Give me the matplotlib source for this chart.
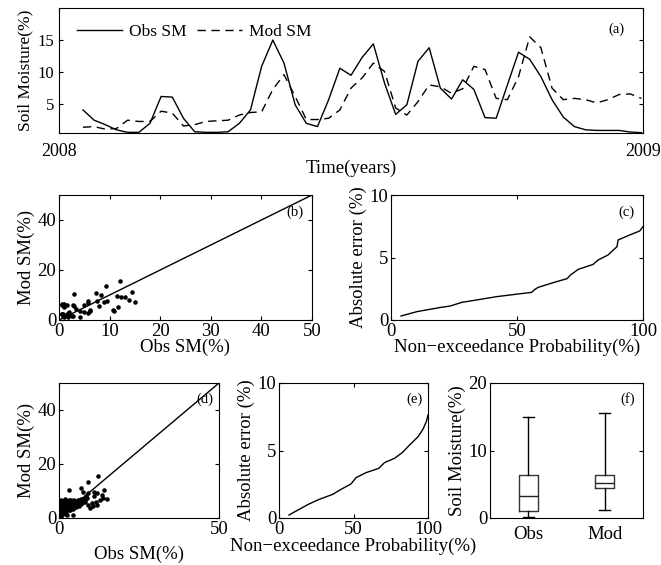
import numpy as np
import pandas as pd
import matplotlib
matplotlib.use('Agg')
import matplotlib.pyplot as plt

plt.rcParams['font.family'] = ['Liberation Serif', 'DejaVu Serif']
plt.rcParams['mathtext.fontset'] = 'stix'
plt.rcParams['axes.linewidth'] = 0.8
plt.rcParams['xtick.direction'] = 'in'
plt.rcParams['ytick.direction'] = 'in'
plt.rcParams['xtick.top'] = True
plt.rcParams['ytick.right'] = True
plt.rcParams['xtick.major.size'] = 3
plt.rcParams['ytick.major.size'] = 3

# (a) weekly time series 2008
dates = pd.date_range('2008-01-16', periods=51, freq='7D')
obs_sm = [4.1, 2.5, 1.8, 1.0, 0.6, 0.6, 2.0, 6.2, 6.1, 2.8,
          0.7, 0.6, 0.6, 0.7, 2.0, 4.1, 10.9, 15.0, 11.4, 4.9,
          2.0, 1.5, 5.7, 10.6, 9.5, 12.3, 14.4, 8.3, 3.4, 4.9,
          11.7, 13.8, 7.5, 5.8, 8.8, 7.3, 2.9, 2.8, 8.0, 13.1,
          12.0, 9.3, 5.7, 3.0, 1.5, 1.0, 0.9, 0.9, 0.9, 0.65, 0.55]
mod_sm = [1.4, 1.5, 1.1, 1.2, 2.5, 2.3, 2.3, 3.9, 3.6, 1.6,
          1.8, 2.3, 2.4, 2.5, 3.3, 3.7, 3.8, 7.3, 9.6, 6.2,
          2.6, 2.6, 2.8, 4.1, 7.5, 9.1, 11.4, 10.1, 4.4, 3.3,
          5.4, 8.0, 7.7, 6.7, 7.4, 10.9, 10.4, 5.9, 5.7, 9.3,
          15.5, 13.8, 7.5, 5.7, 5.9, 5.7, 5.2, 5.7, 6.5, 6.6, 5.9]

# (c) absolute error vs non-exceedance probability
prob_c = [4.0, 10.3, 19.5, 23.5, 28.1, 35.4, 42.0, 49.2, 55.8, 57.1, 58.4,
          64.4, 69.9, 71.2, 74.3, 80.2, 82.2, 86.1, 89.7, 90.1, 94.7, 98.7, 100]
err_c = [0.32, 0.67, 1.0, 1.12, 1.41, 1.65, 1.87, 2.05, 2.21, 2.45, 2.61,
         2.99, 3.31, 3.6, 4.05, 4.45, 4.8, 5.2, 5.87, 6.4, 6.8, 7.12, 7.47]

# (d) all-period scatter
obs_d = [0.2, 0.3, 0.4, 0.5, 0.5, 0.6, 0.7, 0.8, 0.8, 0.9, 1.0, 1.0, 1.1, 1.2, 1.3, 1.4,
         0.3, 0.5, 0.6, 0.7, 0.9, 1.0, 1.2, 1.4, 0.4, 0.6, 0.8, 1.1, 1.3, 0.5, 0.7, 0.9,
         1.2, 0.3, 0.6, 1.0, 1.4, 0.8, 1.1, 0.4,
         1.5, 1.6, 1.8, 2.0, 2.1, 2.3, 2.5, 2.6, 2.8, 3.0, 3.1, 3.3, 3.5, 3.6, 3.8, 4.0,
         1.7, 1.9, 2.2, 2.4, 2.7, 2.9, 3.2, 3.4, 3.7, 3.9, 1.6, 2.0, 2.5, 3.0, 3.5, 2.2,
         2.8, 3.3, 1.8,
         4.2, 4.4, 4.6, 4.8, 5.0, 5.2, 5.4, 5.6, 5.8, 6.0, 6.2, 6.4, 6.6, 6.8, 7.0, 7.2,
         7.4, 7.6, 7.8, 8.0, 4.5, 5.1, 5.7, 6.3, 6.9, 7.5, 8.2, 4.9, 6.1, 7.3,
         3.1, 9.0, 12.1, 6.9, 7.6, 9.2, 11.0, 11.8, 14.2, 13.3, 13.9, 14.9, 12.8, 11.5,
         10.2, 9.2, 8.1, 8.6, 4.5, 1.4, 10.5, 12.0, 9.8, 0.5, 0.8, 10.8, 8.4]
mod_d = [4.8, 5.5, 3.2, 6.0, 4.2, 2.5, 5.1, 3.8, 5.7, 4.5, 6.3, 2.9, 5.3, 4.0, 5.9, 3.4,
         2.1, 5.0, 6.5, 3.6, 4.9, 5.6, 2.4, 6.1, 3.9, 4.6, 1.8, 5.2, 4.3, 5.8, 2.7, 6.2,
         3.1, 6.0, 5.4, 4.1, 5.0, 6.4, 2.3, 5.2,
         5.6, 2.2, 4.7, 6.1, 1.4, 5.3, 3.9, 6.4, 4.6, 5.8, 2.8, 5.1, 4.2, 6.6, 5.5, 3.6,
         3.3, 6.2, 4.4, 1.2, 5.9, 4.0, 6.8, 3.0, 5.2, 6.0, 1.8, 4.9, 6.3, 3.4, 5.7, 2.6,
         5.4, 4.8, 6.9,
         5.9, 6.3, 4.8, 6.6, 5.5, 4.1, 6.1, 5.2, 6.8, 5.7, 4.6, 6.4, 5.9, 6.9, 5.3, 6.6,
         7.1, 5.8, 6.2, 7.4, 3.2, 5.6, 6.0, 6.7, 6.2, 7.0, 6.5, 5.0, 5.4, 6.8,
         10.4, 13.5, 15.6, 11.0, 9.8, 9.1, 9.8, 9.1, 10.4, 8.5, 7.3, 7.0, 6.7, 6.0,
         5.4, 4.8, 6.0, 7.3, 1.1, 1.7, 4.5, 4.7, 3.8, 0.6, 1.2, 8.2, 8.0]

# (e) absolute error curve
prob_e = [6.7, 13.5, 20.2, 27.0, 36.0, 41.6, 48.3, 49.9, 51.7, 58.4, 67.0,
          70.8, 77.5, 82.7, 87.6, 93.3, 96.6, 98.9, 100]
err_e = [0.22, 0.64, 1.04, 1.38, 1.75, 2.12, 2.52, 2.74, 2.99, 3.36, 3.68,
         4.1, 4.42, 4.84, 5.4, 6.02, 6.57, 7.14, 7.63]

# (f) box statistics
box_names = ['Obs', 'Mod']
box_whislo = [0.1, 1.23]
box_q1 = [1.08, 4.5]
box_med = [3.3, 5.16]
box_q3 = [6.3, 6.3]
box_whishi = [15.0, 15.6]

W, H = 661, 565
fig = plt.figure(figsize=(W / 100, H / 100), dpi=100)


def pos(l, r, t, b):
    return [l / W, 1 - b / H, (r - l) / W, (b - t) / H]


tick_fs = 13.5
lab_fs = 13.5
tag_fs = 10.5

# (a)
ax1 = fig.add_axes(pos(59, 643, 8, 133))
ax1.plot(dates, obs_sm, 'k-', lw=1.0, label='Obs SM')
ax1.plot(dates, mod_sm, 'k', ls=(0, (6, 4)), lw=1.0, label='Mod SM')
ax1.set_xlim(pd.Timestamp('2008-01-01'), pd.Timestamp('2009-01-01'))
ax1.set_xticks([pd.Timestamp('2008-01-01'), pd.Timestamp('2009-01-01')])
ax1.set_xticklabels(['2008', '2009'], fontsize=13)
ax1.tick_params(axis='x', pad=7)
ax1.set_ylim(0.5, 20)
ax1.set_yticks([5, 10, 15])
ax1.tick_params(axis='y', labelsize=12)
ax1.set_ylabel('Soil Moisture(%)', fontsize=12.5, labelpad=3)
ax1.set_xlabel('Time(years)', fontsize=13.5, labelpad=0)
ax1.legend(loc='upper left', ncol=2, frameon=False, fontsize=12.5,
           handlelength=2.6, columnspacing=0.6, handletextpad=0.4,
           bbox_to_anchor=(0.01, 0.97), borderaxespad=0.3)
ax1.text(0.955, 0.83, '(a)', transform=ax1.transAxes, fontsize=tag_fs,
         ha='center', va='center')

# (b)
ax2 = fig.add_axes(pos(59, 312, 195, 320))
ax2.plot([0, 50], [0, 50], 'k-', lw=1.0)
ax2.plot(obs_sm, mod_sm, 'k.', ms=4.5)
ax2.set_xlim(0, 50)
ax2.set_ylim(0, 50)
ax2.set_xticks([0, 10, 20, 30, 40, 50])
ax2.set_yticks([0, 20, 40])
ax2.tick_params(labelsize=tick_fs, pad=2)
ax2.set_xlabel('Obs SM(%)', fontsize=lab_fs, labelpad=-1)
ax2.set_ylabel('Mod SM(%)', fontsize=lab_fs, labelpad=2)
ax2.text(0.965, 0.86, '(b)', transform=ax2.transAxes, fontsize=tag_fs,
         ha='right', va='center')

# (c)
ax3 = fig.add_axes(pos(391, 643, 195, 320))
ax3.plot(prob_c, err_c, 'k-', lw=1.0)
ax3.set_xlim(0, 100)
ax3.set_ylim(0, 10)
ax3.set_xticks([0, 50, 100])
ax3.set_yticks([0, 5, 10])
ax3.tick_params(labelsize=tick_fs, pad=2)
ax3.set_xlabel('Non\u2212exceedance Probability(%)', fontsize=lab_fs, labelpad=-1)
ax3.set_ylabel('Absolute error (%)', fontsize=lab_fs, labelpad=2)
ax3.text(0.965, 0.86, '(c)', transform=ax3.transAxes, fontsize=tag_fs,
         ha='right', va='center')

# (d)
ax4 = fig.add_axes(pos(59, 219, 383, 518))
ax4.plot([0, 50], [0, 50], 'k-', lw=1.0)
ax4.plot(obs_d, mod_d, 'k.', ms=4.5)
ax4.set_xlim(0, 50)
ax4.set_ylim(0, 50)
ax4.set_xticks([0, 50])
ax4.set_yticks([0, 20, 40])
ax4.tick_params(labelsize=tick_fs, pad=2)
ax4.set_xlabel('Obs SM(%)', fontsize=lab_fs, labelpad=6)
ax4.set_ylabel('Mod SM(%)', fontsize=lab_fs, labelpad=2)
ax4.text(0.965, 0.88, '(d)', transform=ax4.transAxes, fontsize=tag_fs,
         ha='right', va='center')

# (e)
ax5 = fig.add_axes(pos(279, 428, 383, 518))
ax5.plot(prob_e, err_e, 'k-', lw=1.0)
ax5.set_xlim(0, 100)
ax5.set_ylim(0, 10)
ax5.set_xticks([0, 50, 100])
ax5.set_yticks([0, 5, 10])
ax5.tick_params(labelsize=tick_fs, pad=2)
ax5.set_xlabel('Non\u2212exceedance Probability(%)', fontsize=lab_fs, labelpad=0)
ax5.set_ylabel('Absolute error (%)', fontsize=lab_fs, labelpad=2)
ax5.text(0.965, 0.88, '(e)', transform=ax5.transAxes, fontsize=tag_fs,
         ha='right', va='center')

# (f)
ax6 = fig.add_axes(pos(490, 643, 383, 518))
stats = []
for i in range(len(box_names)):
    stats.append({'label': box_names[i], 'whislo': box_whislo[i], 'q1': box_q1[i],
                  'med': box_med[i], 'q3': box_q3[i], 'whishi': box_whishi[i],
                  'fliers': []})
ax6.bxp(stats, positions=[1, 2], widths=0.25, capwidths=0.14, showfliers=False,
        boxprops=dict(color='#333333', lw=1.0),
        medianprops=dict(color='#222222', lw=1.0),
        whiskerprops=dict(color='k', lw=1.0),
        capprops=dict(color='k', lw=1.0))
ax6.set_xlim(0.5, 2.5)
ax6.set_ylim(0, 20)
ax6.set_yticks([0, 10, 20])
ax6.tick_params(labelsize=tick_fs, pad=2)
ax6.tick_params(axis='x', length=0, pad=6)
ax6.set_ylabel('Soil Moisture(%)', fontsize=lab_fs, labelpad=2)
ax6.text(0.95, 0.88, '(f)', transform=ax6.transAxes, fontsize=tag_fs,
         ha='right', va='center')

fig.savefig('out.png', dpi=100)
